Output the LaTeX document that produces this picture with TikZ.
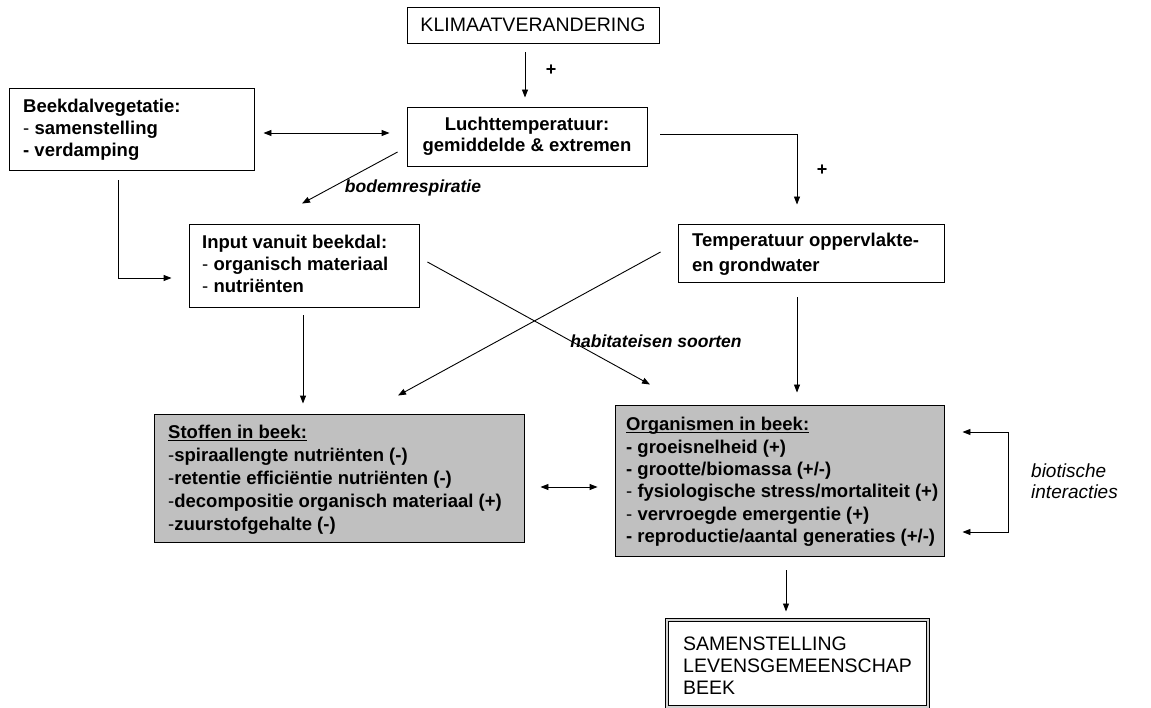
\documentclass[tikz,border=0pt]{standalone}
\usepackage{fontspec}
\setmainfont{Liberation Sans}
\usetikzlibrary{arrows.meta,calc}
\definecolor{boxgrey}{HTML}{C0C0C0}
% underline drawn as a rule under the text
\newcommand\ulinetext[1]{\setbox0\hbox{#1}\rlap{\rule[-2.5pt]{\wd0}{0.9pt}}\box0}
% light dash in front of list items
\newcommand\ld{{\mdseries-}}
\begin{document}
\begin{tikzpicture}[x=1pt,y=-1pt,
  every node/.style={inner sep=0pt},
  box/.style={draw, line width=0.9pt},
  greybox/.style={box, fill=boxgrey},
  txt/.style={align=left, anchor=west, font=\fontsize{18.5}{22}\selectfont\bfseries},
  plain/.style={font=\fontsize{19.5}{22}\selectfont},
  arr/.style={line width=0.9pt, -{Triangle[length=8pt,width=6pt]}},
  darr/.style={line width=0.9pt, {Triangle[length=8pt,width=6pt]}-{Triangle[length=8pt,width=6pt]}},
  lbl/.style={font=\fontsize{19}{21}\selectfont\itshape},
  boldlbl/.style={font=\fontsize{17.5}{21}\selectfont\bfseries\itshape},
  plus/.style={font=\fontsize{18}{20}\selectfont\bfseries}
]
\useasboundingbox (0,0) rectangle (1151,708);

% boxes
\node[box, plain, minimum width=252pt, minimum height=36pt] (klimaat) at (533,25) {KLIMAATVERANDERING};
\node[box, align=center, font=\fontsize{18.5}{21}\selectfont\bfseries,
  minimum width=240pt, minimum height=59pt]
  (lucht) at (527,136.5) {Luchttemperatuur:\\gemiddelde \& extremen};

\node[box, minimum width=245pt, minimum height=82pt] (beekdal) at (131.5,129) {};
\node[txt] (beekdal-t) at (23,130) {Beekdalvegetatie:\\\ld\ samenstelling\\- verdamping};

\node[box, minimum width=230pt, minimum height=83pt] (input) at (304,265.5) {};
\node[txt] (input-t) at (202,264) {Input vanuit beekdal:\\\ld\ organisch materiaal\\\ld\ nutriënten};

\node[box, minimum width=266pt, minimum height=58pt] (temp) at (811,253) {};
\node[txt, font=\fontsize{18.5}{25}\selectfont\bfseries] (temp-t) at (692,254.5)
  {Temperatuur oppervlakte-\\en grondwater};

\node[greybox, minimum width=370pt, minimum height=128pt] (stoffen) at (339,478) {};
\node[txt, font=\fontsize{18.5}{23}\selectfont\bfseries] (stoffen-t) at (168,480)
  {\ulinetext{Stoffen in beek:}\\
   \ld spiraallengte nutriënten (-)\\
   \ld retentie efficiëntie nutriënten (-)\\
   \ld decompositie organisch materiaal (+)\\
   \ld zuurstofgehalte (-)};

\node[greybox, minimum width=329pt, minimum height=151pt] (organismen) at (779.5,480.5) {};
\node[txt, font=\fontsize{18.5}{22.4}\selectfont\bfseries] (organismen-t) at (626,482)
  {\ulinetext{Organismen in beek:}\\
   - groeisnelheid (+)\\
   - grootte/biomassa (+/-)\\
   \ld\ fysiologische stress/mortaliteit (+)\\
   \ld\ vervroegde emergentie (+)\\
   - reproductie/aantal generaties (+/-)};

\node[box, line width=1pt, double=boxgrey!70, double distance=2pt,
  minimum width=261pt, minimum height=87pt] (samen) at (797.5,663.5) {};
\node[txt, plain, font=\fontsize{19.5}{22}\selectfont] (samen-t) at (683,666)
  {SAMENSTELLING\\LEVENSGEMEENSCHAP\\BEEK};

% connectors
\draw[arr] ($(klimaat.south)+(-8,9)$) -- ($(lucht.north)+(-2,-9)$);
\node[plus] (p1) at (551,70) {+};

\draw[darr] ($(beekdal.east)+(9,4)$) -- ($(lucht.west)+(-17,-3.5)$);

\draw[arr] ($(lucht.west)+(-9,15.5)$) -- ($(input.north)+(-2,-20)$);
\node[boldlbl] (bodem) at (413,188) {bodemrespiratie};

\draw[arr] ($(lucht.east)+(13,-2.5)$) -| ($(temp.north)+(-14,-19)$);
\node[plus] (p2) at (822,170) {+};

\draw[arr] ($(beekdal.south)+(-13.5,10)$) |- ($(input.west)+(-17,12.5)$);

\draw[arr] ($(input.south)+(-1,8)$) -- ($(stoffen.north)+(-36,-10)$);

\draw[arr] ($(input.east)+(8,-3.5)$) -- ($(organismen.north)+(-129.5,-20)$);
\draw[arr] ($(temp.west)+(-17,-1)$) -- ($(stoffen.north)+(59,-18)$);
\node[boldlbl] (habitat) at (656,341) {habitateisen soorten};

\draw[arr] ($(temp.south)+(-14,15)$) -- ($(organismen.north)+(17.5,-12)$);

\draw[darr] ($(stoffen.east)+(16,9)$) -- ($(organismen.west)+(-17,6.5)$);

\coordinate (bt) at ($(organismen.east)+(18,-48.5)$);
\coordinate (bb) at ($(organismen.east)+(18,51.5)$);
\draw[darr] (bt) -- ++(46,0) |- (bb);
\node[lbl, align=left, anchor=west] (biot) at (1031,481) {biotische\\interacties};

\draw[arr] ($(organismen.south)+(6.5,14)$) -- ($(samen.north)+(-11.5,-8)$);
\end{tikzpicture}
\end{document}
